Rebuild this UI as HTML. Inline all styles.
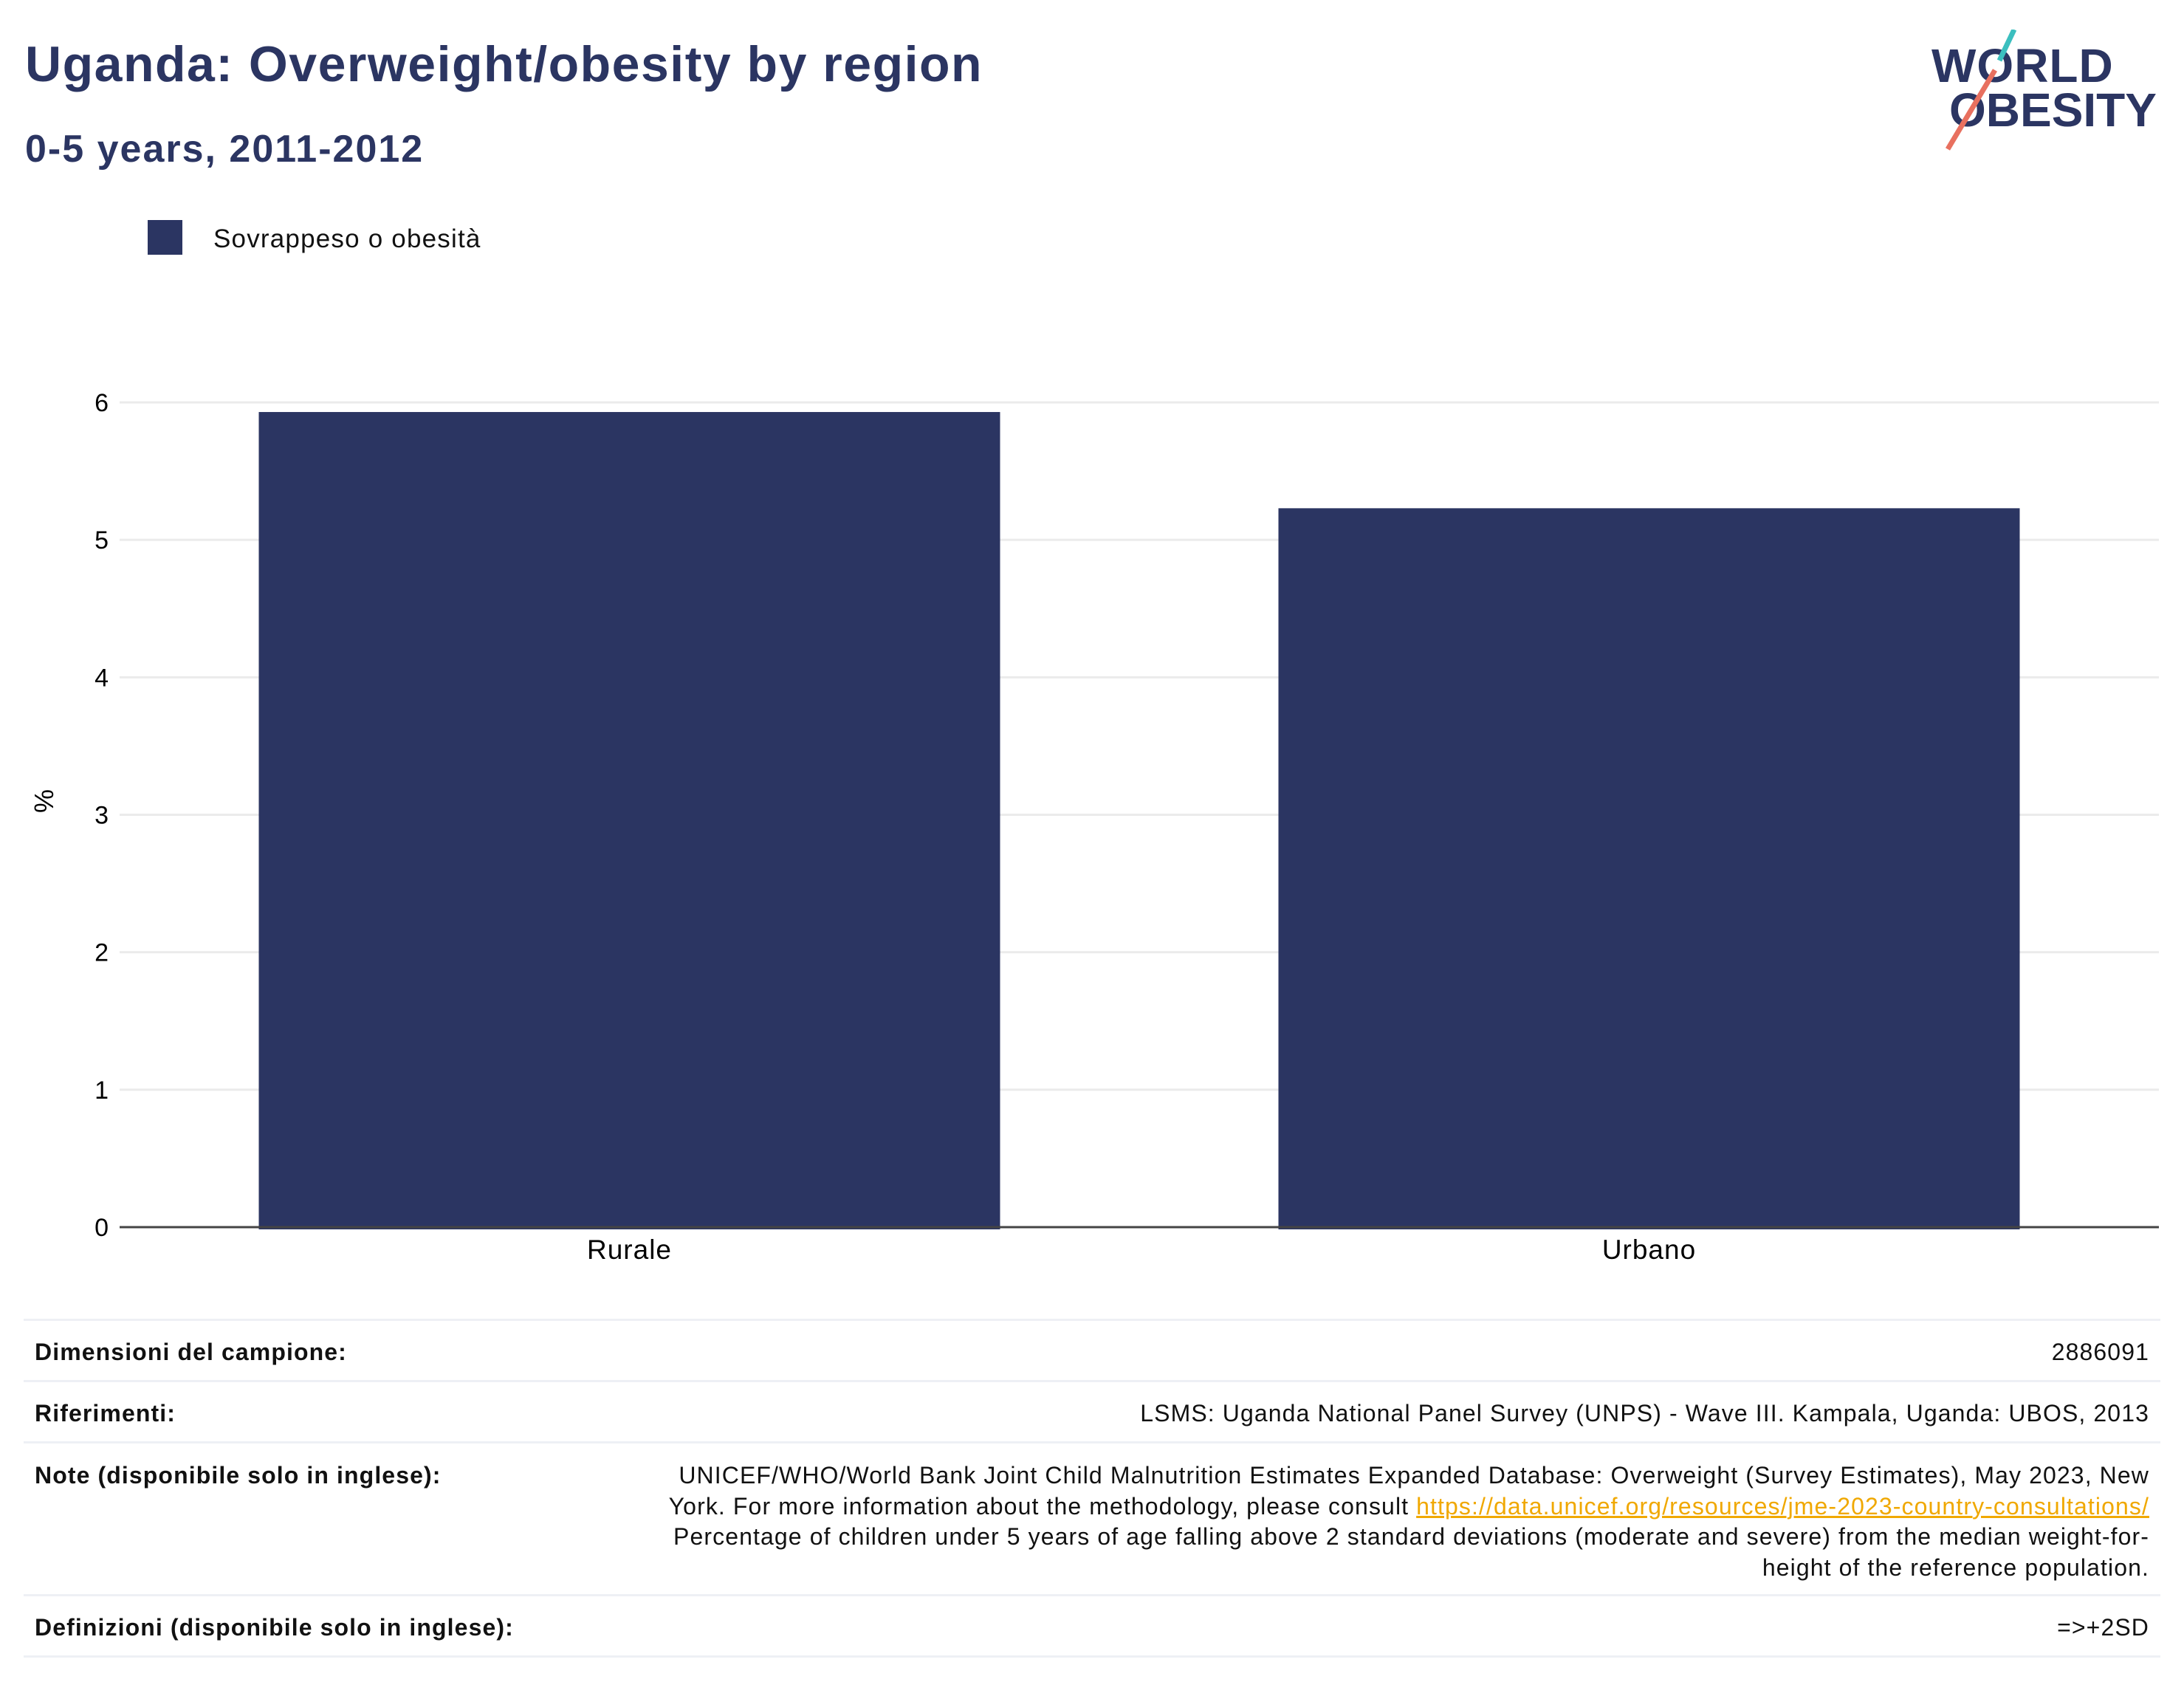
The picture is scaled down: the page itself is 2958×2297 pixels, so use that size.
<!DOCTYPE html>
<html><head><meta charset="utf-8"><style>
body{margin:0;width:2958px;height:2297px;background:#fff;font-family:"Liberation Sans",sans-serif;position:relative;overflow:hidden;color:#111}
.a{position:absolute;white-space:nowrap}
.row{position:absolute;left:47px;width:2864px;font-size:32px;letter-spacing:1.1px}
.hl{position:absolute;left:32px;width:2894px;height:3px;background:#eef0f5}
</style></head><body>
<div class="a" style="left:34px;top:48px;font-size:68px;font-weight:bold;color:#2b3562;letter-spacing:1.5px">Uganda: Overweight/obesity by region</div>
<div class="a" style="left:34px;top:172px;font-size:52px;font-weight:bold;color:#2b3562;letter-spacing:2px">0-5 years, 2011-2012</div>
<div class="a" style="left:2610px;top:40px;width:320px;height:170px">
<div class="a" style="left:6px;top:12px;font-size:64px;font-weight:bold;color:#2b3562;letter-spacing:1px">WORLD</div>
<div class="a" style="left:30px;top:72px;font-size:64px;font-weight:bold;color:#2b3562;letter-spacing:0px">OBESITY</div>
<svg class="a" style="left:0;top:0" width="320" height="170"><line x1="118" y1="0" x2="98" y2="42" stroke="#3bbfbf" stroke-width="7"/><line x1="92" y1="55" x2="28" y2="162" stroke="#e8705f" stroke-width="7"/></svg>
</div>
<div class="a" style="left:200px;top:298px;width:47px;height:47px;background:#2b3562"></div>
<div class="a" style="left:289px;top:304px;font-size:35px;letter-spacing:1.2px">Sovrappeso o obesità</div>
<svg id="chart" class="a" style="left:0;top:0" width="2958" height="1760"></svg>
<div class="hl" style="top:1786px"></div>
<div class="row" style="top:1813px"><b>Dimensioni del campione:</b><span style="float:right">2886091</span></div>
<div class="hl" style="top:1869px"></div>
<div class="row" style="top:1896px"><b>Riferimenti:</b><span style="float:right">LSMS: Uganda National Panel Survey (UNPS) - Wave III. Kampala, Uganda: UBOS, 2013</span></div>
<div class="hl" style="top:1952px"></div>
<div class="row" style="top:1978px;line-height:41.5px"><b style="position:absolute;left:0;top:0">Note (disponibile solo in inglese):</b><div style="text-align:right;white-space:nowrap">UNICEF/WHO/World Bank Joint Child Malnutrition Estimates Expanded Database: Overweight (Survey Estimates), May 2023, New<br>York. For more information about the methodology, please consult <span style="color:#f0a800;text-decoration:underline">https://data.unicef.org/resources/jme-2023-country-consultations/</span><br>Percentage of children under 5 years of age falling above 2 standard deviations (moderate and severe) from the median weight-for-<br>height of the reference population.</div></div>
<div class="hl" style="top:2159px"></div>
<div class="row" style="top:2186px"><b>Definizioni (disponibile solo in inglese):</b><span style="float:right">=&gt;+2SD</span></div>
<div class="hl" style="top:2242px"></div>
<script>
const categories=["Rurale","Urbano"];
const values=[5.93,5.23];
const ticks=[0,1,2,3,4,5,6];
const svg=document.getElementById('chart');const NS='http://www.w3.org/2000/svg';
const x0=162,x1=2924,y0=1662,yTop=545;
const y=v=>y0-(y0-yTop)*v/6;
const bw=(x1-x0)/categories.length;
function el(t,a){const e=document.createElementNS(NS,t);for(const k in a)e.setAttribute(k,a[k]);svg.appendChild(e);return e;}
ticks.forEach(t=>{
 if(t>0){const g=el('line',{x1:x0,x2:x1,y1:y(t),y2:y(t),stroke:'#ebebeb','stroke-width':3});
 
 }
 const l=el('text',{x:147,y:y(t)+12,'text-anchor':'end','font-size':34,'font-family':'Liberation Sans'});l.textContent=t;
 
 
});
categories.forEach((c,i)=>{
 const cx=x0+bw*(i+0.5),w=bw*0.727;
 const r=el('rect',{x:cx-w/2,y:y(values[i]),width:w,height:y0-y(values[i])+3,fill:'#2b3562'});
 
 
 const t=el('text',{x:cx,y:1705,'text-anchor':'middle','font-size':37,'font-family':'Liberation Sans','letter-spacing':1});t.textContent=c;
 
 
});
const ax=el('line',{x1:x0,x2:x1,y1:y0,y2:y0,stroke:'#444','stroke-width':3});


const yt=el('text',{x:72,y:1085,'text-anchor':'middle','font-size':36,'font-family':'Liberation Sans',transform:'rotate(-90 72 1085)'});yt.textContent='%';


</script>
</body></html>
